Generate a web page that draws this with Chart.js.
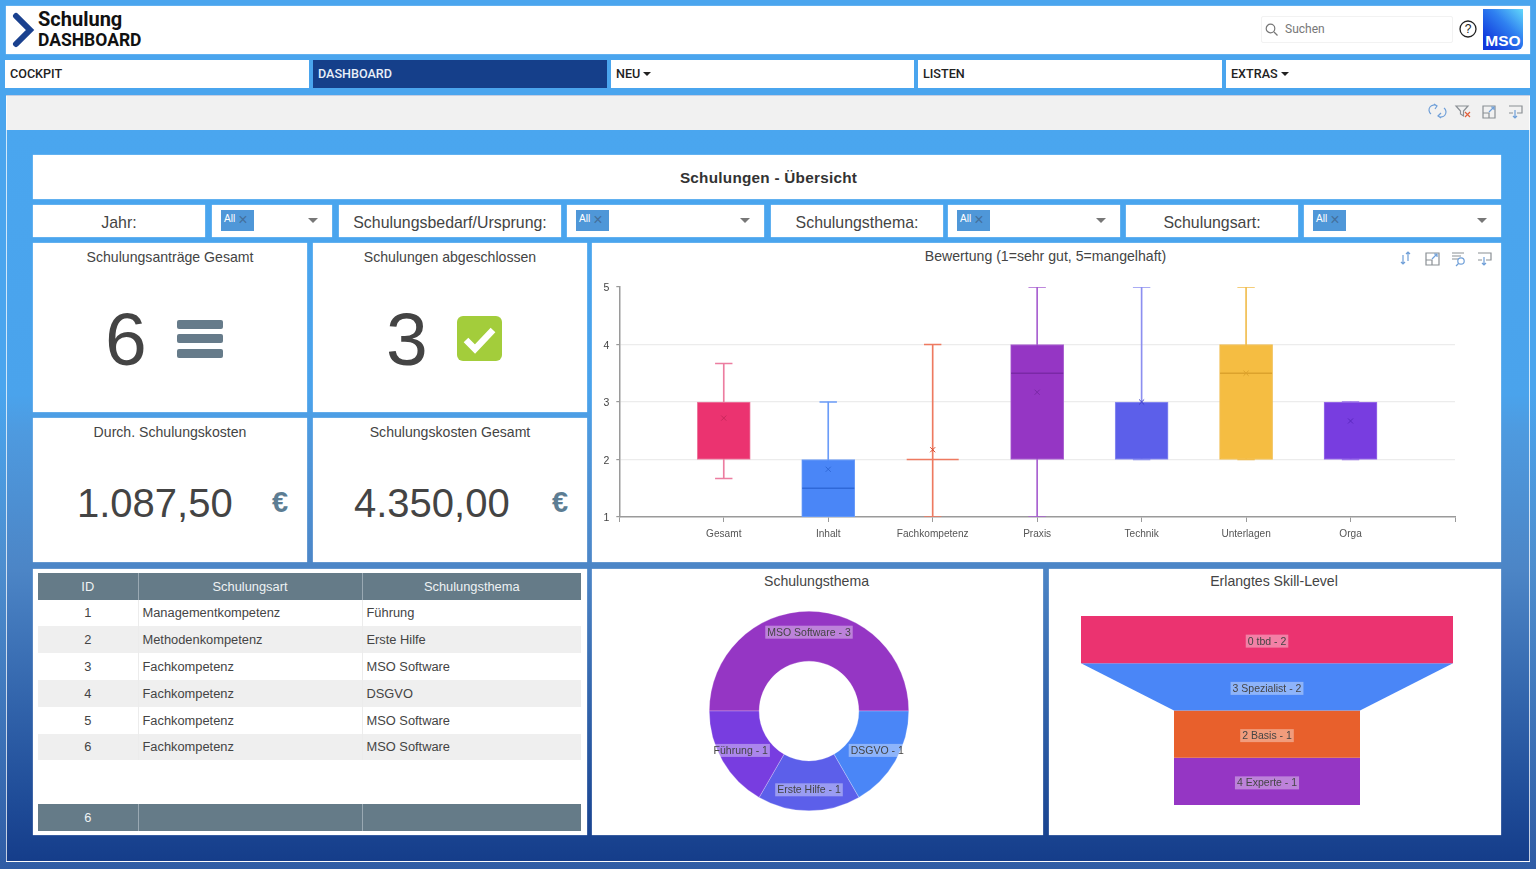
<!DOCTYPE html>
<html lang="de">
<head>
<meta charset="utf-8">
<title>Schulung Dashboard</title>
<script src="https://cdn.jsdelivr.net/npm/chart.js@4"></script>
<style>
html,body{margin:0;padding:0}
body{width:1536px;height:869px;position:relative;overflow:hidden;font-family:"Liberation Sans",Arial,sans-serif;color:#444;
  background:linear-gradient(180deg,#4aa5ee 0,#4aa5ee 45%,#4d8ecf 65%,#2f5ca5 100%)}
.abs,.card,.nav,canvas,svg{position:absolute}
.card{background:#fff;text-align:center;box-shadow:0 0 1px rgba(255,255,255,.8)}
.nav{top:60px;height:28px;line-height:28px;background:#fff;font:500 12.6px/28px Roboto,sans-serif;color:#222;padding-left:5px;box-sizing:border-box}
.caret{display:inline-block;border:4px solid transparent;border-top:4px solid #222;border-bottom:0;margin-left:3px;vertical-align:2px}
.filter{top:205px;height:32px;line-height:35px;font-size:15.9px;color:#444}
.select{top:205px;height:32px}
.chip{position:absolute;left:9px;top:5px;width:33px;height:21px;background:#4f97d8;color:#fff;font-size:10px;line-height:18px;text-align:left;padding-left:3px;box-sizing:border-box}
.chip i{font-style:normal;color:#44709c;font-size:16px;line-height:16px;margin-left:3px;vertical-align:-3px}
.arrow{position:absolute;top:13px;border:5px solid transparent;border-top:5px solid #777;border-bottom:0}
.ktitle{position:absolute;left:0;right:0;top:6px;font-size:14.1px;color:#444}
.big{position:absolute;font-size:75px;line-height:77px;color:#444}
.val{position:absolute;left:0;font-size:40px;line-height:46px;color:#444}
.euro{position:absolute;font-weight:bold;font-size:29px;line-height:32px;color:#5c7d93}
.ptitle{position:absolute;left:0;right:0;font-size:14.1px;color:#444}
table{position:absolute;left:38px;width:543px;border-collapse:collapse;table-layout:fixed;font-size:12.85px}
td,th{padding:0;height:26.8px;box-sizing:border-box;font-weight:normal;overflow:hidden;white-space:nowrap}
td{padding-left:4px;color:#444;border-left:1px solid #ececec}
td:first-child{text-align:center;padding-left:0;border-left:0}
tr.alt td{background:#efefef}
th{background:#657b88;color:#eef2f4;border-left:1px solid #9aa9b3}
th:first-child{border-left:0}
</style>
</head>
<body>

<!-- header -->
<div class="card" style="left:6px;top:6px;width:1524px;height:48px"></div>
<svg style="left:11px;top:12px" width="26" height="36" viewBox="0 0 26 36"><path d="M5 4 L19 18 L5 32" fill="none" stroke="#1a418f" stroke-width="6" stroke-linecap="round" stroke-linejoin="miter"/></svg>
<div class="abs" style="left:38px;top:8px;font:700 20px/22px Roboto,sans-serif;color:#111">Schulung</div>
<div class="abs" style="left:38px;top:30px;font:700 17.5px/20px Roboto,sans-serif;color:#111">DASHBOARD</div>
<div class="abs" style="left:1261px;top:16px;width:192px;height:27px;border:1px solid #f2f2f2;box-sizing:border-box;border-radius:2px"></div>
<svg style="left:1264px;top:22px" width="15" height="15" viewBox="0 0 15 15"><circle cx="6.5" cy="6.5" r="4.3" fill="none" stroke="#777" stroke-width="1.2"/><path d="M10 10 L13.5 13.5" stroke="#777" stroke-width="1.3"/></svg>
<div class="abs" style="left:1285px;top:22px;font:12px/15px Roboto,sans-serif;color:#777">Suchen</div>
<svg style="left:1459px;top:20px" width="18" height="18" viewBox="0 0 18 18"><circle cx="9" cy="9" r="8" fill="none" stroke="#222" stroke-width="1.3"/><text x="9" y="13.2" text-anchor="middle" font-size="12" font-family="Liberation Sans" fill="#222">?</text></svg>
<div class="abs" style="left:1483px;top:9px;width:40px;height:41px;background:linear-gradient(225deg,#62d8fb 0,#2f80f0 40%,#1038dc 85%);border-bottom-right-radius:6px;color:#fff;font:bold 15.5px/18px 'Liberation Sans';text-align:center;padding-top:23px;box-sizing:border-box">MSO</div>

<!-- nav -->
<div class="nav" style="left:5px;width:304px">COCKPIT</div>
<div class="nav" style="left:313px;width:294px;background:#153f8a;color:#e8eef8">DASHBOARD</div>
<div class="nav" style="left:611px;width:303px">NEU<span class="caret"></span></div>
<div class="nav" style="left:918px;width:304px">LISTEN</div>
<div class="nav" style="left:1226px;width:304px">EXTRAS<span class="caret"></span></div>

<!-- frame and toolbar -->
<div class="abs" style="left:6px;top:95px;width:1524px;height:767px;box-sizing:border-box;border:1.5px solid rgba(255,255,255,.75);
  background:linear-gradient(180deg,#f1f1f1 0,#f1f1f1 34px,#4aa6ef 34px,#4aa3ec 39%,#4e9adf 44%,#4c85c6 62%,#1f4c98 92%,#153d8a 100%)"></div>
<svg style="left:1428px;top:102px" width="100" height="18" viewBox="0 0 100 18" fill="none" stroke-width="1.2">
  <path d="M3 12 A5 5 0 0 1 9 4 M16 6 A5 5 0 0 1 10 14 M6 2 L9 4 L7 7 M13 11 L10 14 L13 16" stroke="#6f9fd8"/>
  <path d="M28 4 H40 L35.5 9 V14 L32.5 12 V9 Z" stroke="#8a8f94"/><path d="M37 10 L42 15 M42 10 L37 15" stroke="#e0603c"/>
  <path d="M55 4 H67 V16 H55 Z M55 11 H61 V16" stroke="#8a8f94"/><path d="M61 10 L66 5 M63 5 H66 V8" stroke="#6f9fd8"/>
  <path d="M81 4 H94 V11 H89 M85 11 H81 Z" stroke="#8a8f94"/><path d="M87 8 V16 M85 14 L87 16 L89 14" stroke="#6f9fd8"/>
</svg>

<!-- page title and filters -->
<div class="card" style="left:33px;top:155px;width:1468px;height:44px;font:bold 15.3px/46px 'Liberation Sans';color:#333;letter-spacing:.25px;box-sizing:border-box;padding-left:3px">Schulungen - Übersicht</div>
<div class="card filter" style="left:33px;width:172px">Jahr:</div>
<div class="card select" style="left:212px;width:120px"><span class="chip">All<i>×</i></span><span class="arrow" style="right:14px"></span></div>
<div class="card filter" style="left:339px;width:222px">Schulungsbedarf/Ursprung:</div>
<div class="card select" style="left:567px;width:197px"><span class="chip">All<i>×</i></span><span class="arrow" style="right:14px"></span></div>
<div class="card filter" style="left:771px;width:172px">Schulungsthema:</div>
<div class="card select" style="left:948px;width:172px"><span class="chip">All<i>×</i></span><span class="arrow" style="right:14px"></span></div>
<div class="card filter" style="left:1126px;width:172px">Schulungsart:</div>
<div class="card select" style="left:1304px;width:197px"><span class="chip">All<i>×</i></span><span class="arrow" style="right:14px"></span></div>

<!-- KPI cards -->
<div class="card" style="left:33px;top:243px;width:274px;height:169px">
  <div class="ktitle">Schulungsanträge Gesamt</div>
  <div class="big" style="left:72px;top:58px">6</div>
  <div class="abs" style="left:144px;top:77px;width:46px;height:9px;background:#667b8a;border-radius:2px"></div>
  <div class="abs" style="left:144px;top:91px;width:46px;height:9px;background:#667b8a;border-radius:2px"></div>
  <div class="abs" style="left:144px;top:106px;width:46px;height:9px;background:#667b8a;border-radius:2px"></div>
</div>
<div class="card" style="left:313px;top:243px;width:274px;height:169px">
  <div class="ktitle">Schulungen abgeschlossen</div>
  <div class="big" style="left:73px;top:58px">3</div>
  <svg style="left:144px;top:73px" width="45" height="45" viewBox="0 0 45 45"><rect width="45" height="45" rx="6" fill="#a3cd3b"/><path d="M9 24 L18 33 L36 14" fill="none" stroke="#fff" stroke-width="6.5"/></svg>
</div>
<div class="card" style="left:33px;top:418px;width:274px;height:144px">
  <div class="ktitle">Durch. Schulungskosten</div>
  <div class="val" style="left:44px;top:62px">1.087,50</div>
  <div class="euro" style="left:239px;top:68px">€</div>
</div>
<div class="card" style="left:313px;top:418px;width:274px;height:144px">
  <div class="ktitle">Schulungskosten Gesamt</div>
  <div class="val" style="left:41px;top:62px">4.350,00</div>
  <div class="euro" style="left:239px;top:68px">€</div>
</div>

<!-- box plot panel -->
<div class="card" style="left:592px;top:243px;width:909px;height:319px">
  <div class="ptitle" style="top:5px;left:0;width:907px">Bewertung (1=sehr gut, 5=mangelhaft)</div>
  <canvas id="boxChart" width="908" height="318" style="left:0;top:0"></canvas>
  <svg style="left:806px;top:6px" width="100" height="18" viewBox="0 0 100 18" fill="none" stroke-width="1.2">
    <path d="M5 6 V15 M3 13 L5 15 L7 13" stroke="#6f9fd8"/><path d="M10 12 V3 M8 5 L10 3 L12 5" stroke="#6f9fd8"/>
    <path d="M28 4 H41 V16 H28 Z M28 11 H34 V16" stroke="#8a8f94"/><path d="M34 10 L39 5 M36 5 H39 V8" stroke="#6f9fd8"/>
    <path d="M54 4 H66 M54 7 H63 M54 10 H60" stroke="#8a8f94"/><circle cx="63" cy="12" r="3.2" stroke="#6f9fd8"/><path d="M60.5 14.5 L58 17" stroke="#6f9fd8"/>
    <path d="M80 4 H93 V11 H88 M84 11 H80 Z" stroke="#8a8f94"/><path d="M86 8 V16 M84 14 L86 16 L88 14" stroke="#6f9fd8"/>
  </svg>
</div>

<!-- table panel -->
<div class="card" style="left:33px;top:569px;width:554px;height:266px"></div>
<table id="mainTable" style="top:572.8px"></table>
<table id="footTable" style="top:804px"></table>

<!-- donut panel -->
<div class="card" style="left:592px;top:569px;width:451px;height:266px">
  <div class="ptitle" style="top:4px;width:449px">Schulungsthema</div>
  <canvas id="donutChart" width="398" height="200" style="left:18px;top:42px"></canvas>
</div>

<!-- funnel panel -->
<div class="card" style="left:1049px;top:569px;width:452px;height:266px">
  <div class="ptitle" style="top:4px;left:0;width:450px">Erlangtes Skill-Level</div>
  <canvas id="funnelChart" width="372" height="189" style="left:32px;top:47px"></canvas>
</div>

<script>
// box plot values
const boxCategories = ['Gesamt', 'Inhalt', 'Fachkompetenz', 'Praxis', 'Technik', 'Unterlagen', 'Orga'];
const whiskerLow = [1.67, 1, 1, 1, 2, 2, 2];
const boxLow = [2, 1, 2, 2, 2, 2, 2];
const medians = [null, 1.5, 2, 3.5, null, 3.5, null];
const boxHigh = [3, 2, 2, 4, 3, 4, 3];
const whiskerHigh = [3.67, 3, 4, 5, 5, 5, 3];
const means = [2.72, 1.83, 2.17, 3.17, 3, 3.5, 2.67];
const yTicks = [1, 2, 3, 4, 5];

const themeLabels = ['MSO Software', 'DSGVO', 'Erste Hilfe', 'Führung'];
const themeValues = [3, 1, 1, 1];

const skillLabels = ['0 tbd', '3 Spezialist', '2 Basis', '4 Experte'];
const skillValues = [2, 2, 1, 1];

const tableColumns = ['ID', 'Schulungsart', 'Schulungsthema'];
const tableIds = [1, 2, 3, 4, 5, 6];
const tableArt = ['Managementkompetenz', 'Methodenkompetenz', 'Fachkompetenz', 'Fachkompetenz', 'Fachkompetenz', 'Fachkompetenz'];
const tableThema = ['Führung', 'Erste Hilfe', 'MSO Software', 'DSGVO', 'MSO Software', 'MSO Software'];

// colours
const boxColors = ['#eb3370', '#4a86f7', '#e8654a', '#9536c4', '#5c5fea', '#f5bd42', '#783de0'];
const whiskerColors = ['#ec7da0', '#6b9cf8', '#ee7a60', '#a860d0', '#8c8ff0', '#f1bd4e', '#9a70e8'];
const darkColors = ['#c9285c', '#2f68d8', '#d9482c', '#7a28a6', '#3f3fc8', '#dca22c', '#5a28c0'];
const medianColors = ['#c9285c', '#2f68d8', '#ee7a60', '#7a28a6', '#3f3fc8', '#dca22c', '#5a28c0'];
const themeColors = ['#9536c4', '#4a86f7', '#5c5fea', '#783de0'];
const skillColors = ['#eb3370', '#4a86f7', '#e8602c', '#9536c4'];

const FONT = '"Liberation Sans", Arial, sans-serif';
Chart.defaults.animation = false;
Chart.defaults.font.family = FONT;

// first and last slot of the x axis stay empty
const pad = a => [null, ...a, null];
const span = (lo, hi) => lo.map((v, i) => [v, hi[i]]);

function capStyle(values, order) {
  return {
    type: 'line', data: pad(values), showLine: false, order,
    pointStyle: 'line', pointRadius: 8.7, pointBorderWidth: 1.3,
    pointBorderColor: pad(whiskerColors)
  };
}

new Chart(document.getElementById('boxChart'), {
  type: 'bar',
  data: {
    labels: pad(boxCategories).map(l => l || ''),
    datasets: [
      {data: pad(span(whiskerLow, whiskerHigh)), barThickness: 1, grouped: false, order: 5, backgroundColor: pad(whiskerColors)},
      capStyle(whiskerLow, 4),
      capStyle(whiskerHigh, 4),
      {data: pad(span(boxLow, boxHigh)), barThickness: 53, grouped: false, order: 3, backgroundColor: pad(boxColors),
        borderColor: pad(whiskerColors), borderWidth: 1, borderSkipped: false},
      {type: 'line', data: pad(medians), showLine: false, order: 2, pointStyle: 'line', pointRadius: 26,
        pointBorderWidth: 1.3, pointBorderColor: pad(medianColors)},
      {type: 'line', data: pad(means), showLine: false, order: 1, pointStyle: 'crossRot', pointRadius: 3.6,
        pointBorderWidth: 1, pointBorderColor: pad(darkColors)}
    ]
  },
  options: {
    responsive: false,
    layout: {padding: {top: 44, right: 45}},
    plugins: {legend: {display: false}, tooltip: {enabled: false}},
    scales: {
      x: {
        offset: false,
        afterFit: s => { s.height = 44; },
        border: {color: '#9a9a9a', width: 1.5},
        grid: {offset: false, drawOnChartArea: false, tickLength: 5, tickColor: '#9a9a9a', tickWidth: 1},
        ticks: {color: '#555', font: {size: 10.1}, padding: 6, autoSkip: false, maxRotation: 0}
      },
      y: {
        min: yTicks[0], max: yTicks[yTicks.length - 1],
        afterFit: s => { s.width = 27; },
        afterBuildTicks: s => { s.ticks = yTicks.map(value => ({value})); },
        border: {color: '#9a9a9a', width: 1.5},
        grid: {
          color: c => (c.tick.value === 1 || c.tick.value === 5) ? 'transparent' : '#ececec',
          tickColor: '#9a9a9a', tickLength: 3, lineWidth: 1.2
        },
        ticks: {color: '#444', font: {size: 10.5}, padding: 7, labelOffset: 1.5}
      }
    }
  }
});

// translucent label used on the donut and the funnel
function drawChip(ctx, text, x, y) {
  ctx.save();
  ctx.font = '10.5px ' + FONT;
  ctx.textAlign = 'center';
  ctx.textBaseline = 'middle';
  const w = ctx.measureText(text).width + 4;
  ctx.fillStyle = 'rgba(255,255,255,0.38)';
  ctx.fillRect(x - w / 2, y - 6.5, w, 13);
  ctx.fillStyle = '#444';
  ctx.fillText(text, x, y + 0.5);
  ctx.restore();
}

const donutLabels = {
  id: 'donutLabels',
  afterDatasetsDraw(chart) {
    chart.getDatasetMeta(0).data.forEach((arc, i) => {
      const {x, y, startAngle, endAngle, outerRadius, innerRadius} = arc.getProps(['x', 'y', 'startAngle', 'endAngle', 'outerRadius', 'innerRadius']);
      const mid = (startAngle + endAngle) / 2;
      const r = (outerRadius + innerRadius) / 2 + 4;
      drawChip(chart.ctx, themeLabels[i] + ' - ' + themeValues[i], x + Math.cos(mid) * r, y + Math.sin(mid) * r);
    });
  }
};

new Chart(document.getElementById('donutChart'), {
  type: 'doughnut',
  data: {labels: themeLabels, datasets: [{data: themeValues, backgroundColor: themeColors, borderWidth: 0.5, borderColor: 'rgba(255,255,255,0.5)'}]},
  options: {
    responsive: false,
    rotation: -90,
    cutout: '50%',
    plugins: {legend: {display: false}, tooltip: {enabled: false}}
  },
  plugins: [donutLabels]
});

// each funnel row narrows from its own value to the value of the next row
const funnelSets = skillValues.map((v, i) => {
  const next = i + 1 < skillValues.length ? skillValues[i + 1] : v;
  return {
    data: [{x: -v / 2, y: i}, {x: v / 2, y: i}, {x: next / 2, y: i + 1}, {x: -next / 2, y: i + 1}],
    showLine: true, fill: 'shape', pointRadius: 0, borderWidth: 0, backgroundColor: skillColors[i]
  };
});

const funnelLabels = {
  id: 'funnelLabels',
  afterDatasetsDraw(chart) {
    skillLabels.forEach((label, i) => {
      drawChip(chart.ctx, label + ' - ' + skillValues[i], chart.scales.x.getPixelForValue(0), chart.scales.y.getPixelForValue(i + 0.5) + 1.5);
    });
  }
};

new Chart(document.getElementById('funnelChart'), {
  type: 'scatter',
  data: {datasets: funnelSets},
  options: {
    responsive: false,
    plugins: {legend: {display: false}, tooltip: {enabled: false}},
    scales: {
      x: {display: false, min: -Math.max(...skillValues) / 2, max: Math.max(...skillValues) / 2},
      y: {display: false, reverse: true, min: 0, max: skillValues.length}
    }
  },
  plugins: [funnelLabels]
});

// table
const colWidths = '<colgroup><col style="width:100px"><col style="width:224px"><col style="width:219px"></colgroup>';
document.getElementById('mainTable').innerHTML = colWidths +
  '<tr>' + tableColumns.map(c => `<th>${c}</th>`).join('') + '</tr>' +
  tableIds.map((id, i) => `<tr class="${i % 2 ? 'alt' : ''}"><td>${id}</td><td>${tableArt[i]}</td><td>${tableThema[i]}</td></tr>`).join('');
document.getElementById('footTable').innerHTML = colWidths + `<tr><th>${tableIds.length}</th><th></th><th></th></tr>`;
</script>
</body>
</html>
